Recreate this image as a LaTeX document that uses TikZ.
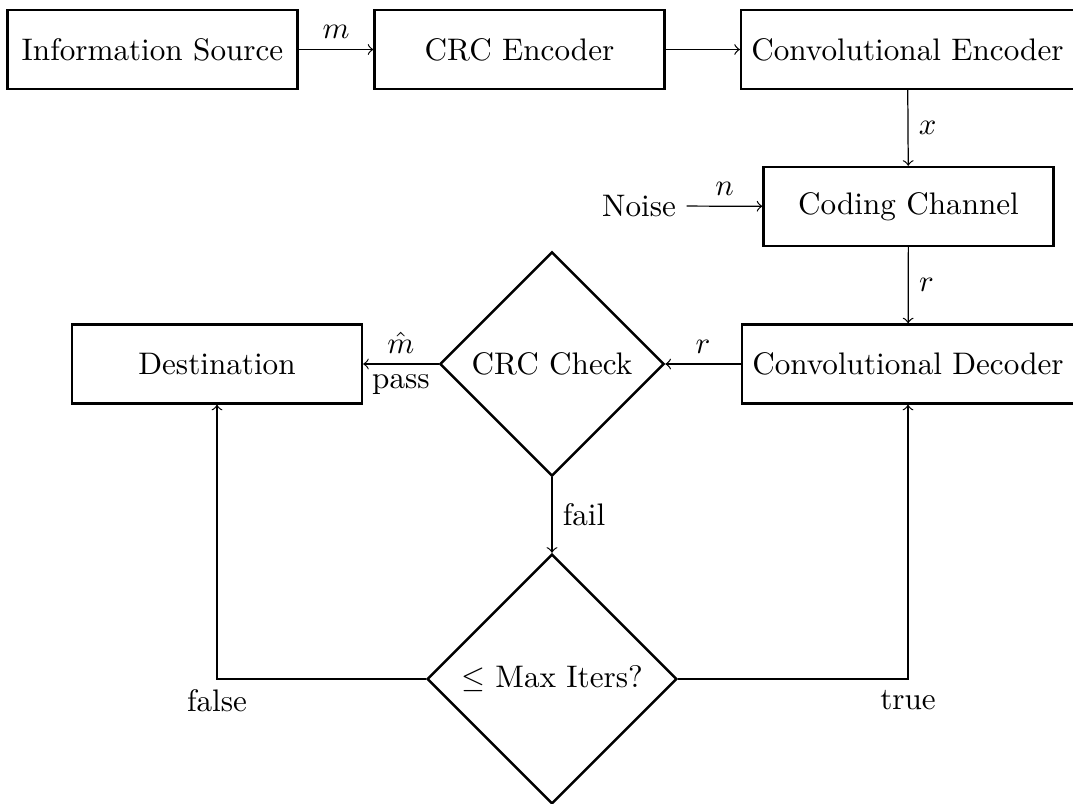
\documentclass[tikz,border=0pt]{standalone}
\usetikzlibrary{shapes.geometric}
\begin{document}
\begin{tikzpicture}[x=0.3257pt, y=-0.3257pt,
  every node/.style={font=\fontsize{10.15pt}{12pt}\selectfont},
  block/.style={draw, thick, rectangle, minimum width=94.4pt, minimum height=25.7pt, inner sep=3.33pt},
  wideblock/.style={block, minimum width=108.3pt},
  decision/.style={draw, thick, diamond, aspect=1, inner sep=0pt},
  plain/.style={inner sep=3.33pt},
  flow/.style={->}
]
\useasboundingbox (0,0) rectangle (1073,803);

% Transmitter chain
\node[block] (src) at (152.5,49.5) {Information Source};
\node[block] (crcenc) at (519.5,49.5) {CRC Encoder};
\node[wideblock] (convenc) at (907.5,49.5) {Convolutional Encoder};

% Channel with additive noise
\node[block] (channel) at (908.5,206.5) {Coding Channel};
\node[plain] (noise) at (639,206) {Noise};

% Receiver chain
\node[wideblock] (convdec) at (908,364) {Convolutional Decoder};
\node[decision, minimum width=73pt, minimum height=73pt] (check) at (552,364) {CRC Check};
\node[block] (dest) at (217,364) {Destination};
\node[decision, minimum width=81.4pt, minimum height=81.4pt] (iter) at (552,679) {$\leq$ Max Iters?};

% Connectors
\draw[flow] (src) -- node[above] {$m$} (crcenc);
\draw[flow] (crcenc) -- (convenc);
\draw[flow] (convenc) -- node[right] {$x$} (channel);
\draw[flow] (noise) -- node[above] {$n$} (channel);
\draw[flow] (channel) -- node[right] {$r$} (convdec);
\draw[flow] (convdec) -- node[above] {$r$} (check);
\draw[flow] (check) -- node[above] {$\hat{m}$} node[below] {pass} (dest);
\draw[flow] (check) -- node[right] {fail} (iter);
\draw[flow] (iter.west) -| node[pos=0.5, below] {false} (dest.south);
\draw[flow] (iter.east) -| node[pos=0.5, below] {true} (convdec.south);
\end{tikzpicture}
\end{document}
